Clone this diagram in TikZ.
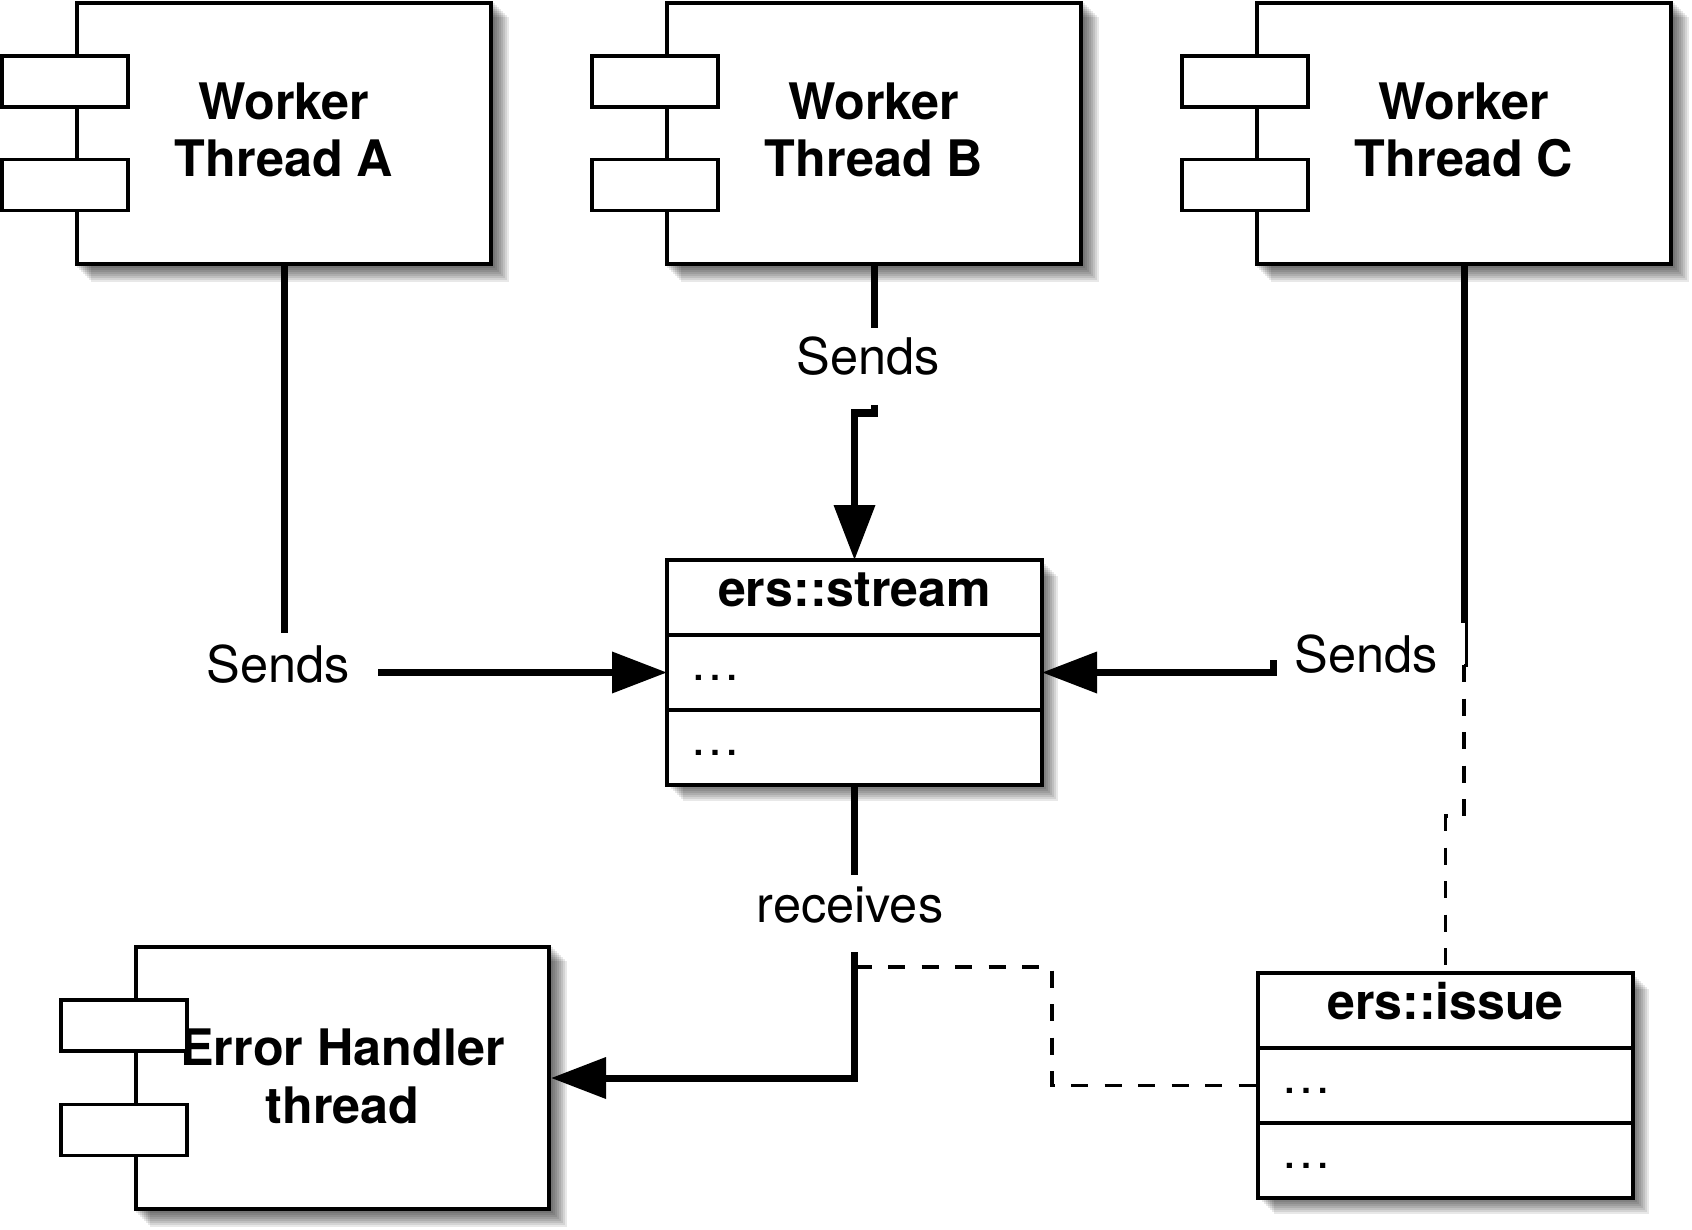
\documentclass[tikz,border=0pt]{standalone}
\usepackage{fontspec}
\setmainfont{TeX Gyre Heros}
\usetikzlibrary{arrows.meta}
\pgfdeclarelayer{bglayer}
\pgfdeclarelayer{shdlayer}
\pgfsetlayers{bglayer,shdlayer,main}
\newcommand\dropshade[2]{%
  \foreach \sh in {2,4,...,16}{%
    \fill[black, opacity=0.09] ([shift={(\sh pt,-\sh pt)}]#1.north west) rectangle ([shift={(\sh pt,-\sh pt)}]#2.south east);
  }}
\begin{document}
\begin{tikzpicture}[x=1pt,y=-1pt,
  comp/.style={draw, line width=4pt, fill=white, minimum width=414pt, minimum height=261pt, inner sep=0pt, align=center, text depth=8pt, font=\fontsize{50.3}{57.5}\selectfont\bfseries},
  port/.style={draw, line width=3.5pt, fill=white, minimum width=126pt, minimum height=51pt, inner sep=0pt},
  chdr/.style={draw, line width=4.5pt, fill=white, outer sep=0pt, minimum width=375pt, minimum height=75pt, inner sep=0pt, text height=35pt, text depth=18pt, font=\fontsize{50}{57.5}\selectfont\bfseries},
  crow/.style={draw, line width=4.5pt, fill=white, outer sep=0pt, minimum width=375pt, minimum height=75pt, inner xsep=23pt, inner ysep=0pt, text width=329pt, align=left, text height=15pt, text depth=0pt, font=\fontsize{50}{57.5}\selectfont},
  lbl/.style={font=\fontsize{50.5}{57.5}\selectfont, inner sep=0pt, anchor=base},
  conn/.style={line width=7pt},
  arr/.style={line width=7pt, -{Triangle[length=55pt, width=40pt]}},
  assoc/.style={line width=3.5pt, dash pattern=on 17pt off 16.5pt},
  assocsolid/.style={line width=3pt}
]
\useasboundingbox (0,0) rectangle (1692,1230);
\begin{pgfonlayer}{bglayer}
  \fill[white] (0,0) rectangle (1692,1230);
\end{pgfonlayer}

% components
\node[comp] (A) at (284,133.5) {Worker\\Thread A};
\node[port] (A-p1) at ([xshift=-219pt,yshift=52pt]A.center) {};
\node[port] (A-p2) at ([xshift=-219pt,yshift=-51.5pt]A.center) {};

\node[comp] (B) at (874,133.5) {Worker\\Thread B};
\node[port] (B-p1) at ([xshift=-219pt,yshift=52pt]B.center) {};
\node[port] (B-p2) at ([xshift=-219pt,yshift=-51.5pt]B.center) {};

\node[comp] (C) at (1464,133.5) {Worker\\Thread C};
\node[port] (C-p1) at ([xshift=-219pt,yshift=52pt]C.center) {};
\node[port] (C-p2) at ([xshift=-219pt,yshift=-51.5pt]C.center) {};

\node[comp, minimum width=413pt, minimum height=262pt, text depth=4pt] (EH) at (342.5,1078) {Error Handler\\thread};
\node[port] (EH-p1) at ([xshift=-218.5pt,yshift=52.5pt]EH.center) {};
\node[port] (EH-p2) at ([xshift=-218.5pt,yshift=-52pt]EH.center) {};

% classes
\node[chdr] (stream) at (854.5,597.5) {ers::stream};
\node[crow, anchor=north] (stream1) at (stream.south) {…};
\node[crow, anchor=north] (stream2) at (stream1.south) {…};

\node[chdr] (issue) at (1445.5,1010.5) {ers::issue};
\node[crow, anchor=north] (issue1) at (issue.south) {…};
\node[crow, anchor=north] (issue2) at (issue1.south) {…};

% shadows
\begin{pgfonlayer}{shdlayer}
  \dropshade{A}{A}
  \dropshade{B}{B}
  \dropshade{C}{C}
  \dropshade{EH}{EH}
  \dropshade{stream}{stream2}
  \dropshade{issue}{issue2}
\end{pgfonlayer}

% labels
\node[lbl] (sA) at (278,682) {Sends};
\node[lbl] (sB) at (868.5,375) {Sends};
\node[lbl] (sC) at (1366,672) {Sends};
\node[lbl] (rcv) at (850,922) {receives};

% connector A
\coordinate (aBrk) at (284,633);
\coordinate (aSt) at (378,672.5);
\draw[conn] (A.south) -- (aBrk);
\draw[arr] (aSt) -- (stream1.west);

% connector B
\coordinate (bBrk) at (874,328);
\coordinate (bSt) at (874,405);
\coordinate (bJog) at (874,413);
\draw[conn] (B.south) -- (bBrk);
\draw[arr] (bSt) -- (bJog) -- (bJog -| stream.north) -- (stream.north);

% connector C
\coordinate (cBrk) at (1464,623);
\coordinate (cSt) at (1273,660);
\draw[conn] (C.south) -- (cBrk);
\draw[arr] (cSt) -- (cSt |- stream1.east) -- (stream1.east);

% receives
\coordinate (rBrk) at (854.5,875);
\coordinate (rSt) at (854.5,952);
\draw[conn] (stream2.south) -- (rBrk);
\draw[arr] (rSt) |- (EH.east);

% association class links
\coordinate (dC0) at (1466.5,623);
\coordinate (dC1) at (1464,665);
\coordinate (dC2) at (1445.5,816);
\draw[assocsolid] (dC0) -- (dC0 |- dC1) -- (dC1);
\draw[assoc] (dC1) |- (dC2) -- (issue.north);

\coordinate (dR) at (1052,967);
\draw[assoc] (dR -| rSt) -- (dR) |- (issue1.west);
\end{tikzpicture}
\end{document}
